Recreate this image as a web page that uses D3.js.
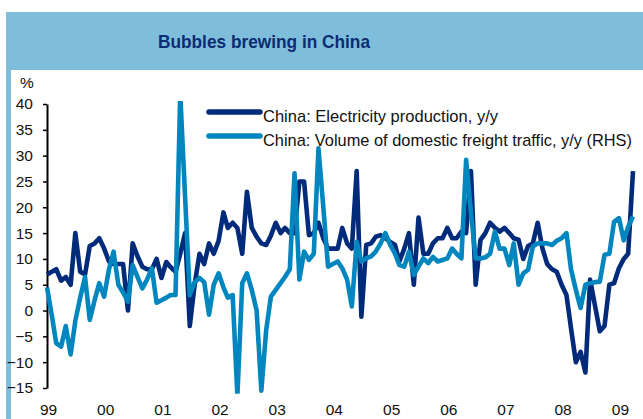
<!DOCTYPE html>
<html>
<head>
<meta charset="utf-8">
<script src="https://cdn.jsdelivr.net/npm/d3@7"></script>
<style>
  html, body { margin: 0; padding: 0; background: #fff; }
  svg { display: block; }
  text { font-family: "Liberation Sans", Arial, Helvetica, sans-serif; }
</style>
</head>
<body>
<svg id="chart" width="643" height="419"></svg>
<script>
// China: electricity production, y/y (%), monthly from Jan 1999
const electricity = [
  7, 7.5, 8, 5.8, 6.5, 5, 15, 7.5, 7, 12.5, 13, 14,
  12, 9.5, 9, 9, 9, 0, 13, 10.5, 8.5, 8, 8, 10,
  6.3, 9.4, 8.4, 7.5, 11, 15, -3, 5, 11, 9, 13, 11,
  13.5, 19, 16, 17, 16, 11, 23, 16, 14.3, 13, 12.7, 14.5,
  17, 15, 16, 15, 15, 25, 25, 14.6, 15, 17, 14, 12,
  12, 12, 16, 13, 12, 27, -1.2, 12.7, 13, 14.3, 14.6, 14,
  13.3, 12.7, 9.5, 12, 15, 5, 18, 11, 11, 13, 14, 14,
  16, 14, 14, 15.3, 15, 27, 5, 13.7, 15, 17, 16, 15.3,
  16, 15, 14, 13.7, 10, 12.5, 13, 17, 12, 9, 8, 7.5,
  5, 3, -3.4, -10, -8, -12, 6, 1, -4, -3, 5, 5.3,
  8.2, 10, 11, 27
];

// China: volume of domestic freight traffic, y/y (%), right-hand scale
const freight = [
  4.5, -1, -6.3, -7, -3, -8.5, -2, 2.5, 6.5, -1.8, 2, 5.3,
  2.7, 8, 11.4, 5, 3.5, 1.7, 8.8, 6.5, 4.3, 6, 8.2, 1.5,
  2, 2.5, 3, 3, 42, 22, 3, 5.5, 6.3, 5.5, -0.8, 5,
  7.2, 4.5, 2.5, 3, -16.5, 5.3, 7.2, 4, 0, -15.5, -3.8, 2.7,
  4, 5.3, 6.5, 8, 26.6, 6, 11.4, 9.8, 11, 31.4, 20, 8.5,
  9, 9.5, 8.2, 6, 0.8, 13.3, 9.5, 10.1, 10.5, 11.4, 13, 15,
  12.7, 11, 8.8, 8.5, 11.4, 6.9, 8.5, 10.1, 9.2, 10.4, 9.5, 9.8,
  10.1, 12, 11, 10.1, 29.2, 19, 10.1, 10.1, 10.3, 11, 15.3, 12,
  12, 8.8, 13, 5, 7.2, 7.9, 12.4, 13, 13, 13, 12.7, 13.5,
  14, 15, 8, 4, 0.5, 5, 5.3, 5.5, 5.6, 10.8, 11, 17.2,
  17.9, 13.6, 16.2, 18.2
];

const yearLabels = ["99", "00", "01", "02", "03", "04", "05", "06", "07", "08", "09"];
const yTicks = [-15, -10, -5, 0, 5, 10, 15, 20, 25, 30, 35, 40];
const seriesNames = [
  "China: Electricity production, y/y",
  "China: Volume of domestic freight traffic, y/y (RHS)"
];
const title = "Bubbles brewing in China";

const startDate = new Date(1999, 0, 1);
const months = d3.timeMonth.range(startDate, d3.timeMonth.offset(startDate, electricity.length));
const yearStarts = yearLabels.map((_, i) => new Date(1999 + i, 0, 1));

const svg = d3.select("#chart");
const frameBlue = "#7ebedb";
const navy = "#002a7a";
const lightBlue = "#0086be";

// Frame: title band and left border
svg.append("rect").attr("x", 6).attr("y", 12).attr("width", 643).attr("height", 58).attr("fill", frameBlue);
svg.append("rect").attr("x", 6).attr("y", 70).attr("width", 5).attr("height", 349).attr("fill", frameBlue);

svg.append("text")
  .attr("x", 264).attr("y", 48)
  .attr("text-anchor", "middle")
  .attr("font-size", 19).attr("font-weight", "bold")
  .attr("fill", "#0c2c72")
  .attr("textLength", 212).attr("lengthAdjust", "spacingAndGlyphs")
  .text(title);

// Scales
const x = d3.scaleTime()
  .domain([months[0], months[months.length - 1]])
  .range([47, 633]);
const y = d3.scaleLinear().domain([-15, 40]).range([388, 104]);

// Plot clip region
svg.append("defs").append("clipPath").attr("id", "plotClip")
  .append("rect")
  .attr("x", 40).attr("y", y(40.6))
  .attr("width", 610).attr("height", y(-16.1) - y(40.6));

// Left axis
const yAxis = d3.axisLeft(y).tickValues(yTicks).tickSize(4).tickSizeOuter(0).tickPadding(10);
const gy = svg.append("g").attr("transform", "translate(47,0)").call(yAxis);
gy.select(".domain").attr("stroke", "#000").attr("stroke-width", 2);
gy.selectAll(".tick line").attr("stroke", "#000").attr("stroke-width", 1.5);
gy.selectAll(".tick text").attr("font-size", 15.5).attr("fill", "#111")
  .attr("font-family", "'Liberation Sans', Arial, sans-serif");

svg.append("text").attr("x", 20).attr("y", 88).attr("font-size", 15.5).attr("fill", "#111").text("%");

// Year labels
svg.append("g").selectAll("text").data(yearLabels).join("text")
  .attr("x", (d, i) => x(yearStarts[i]) + 1.5)
  .attr("y", 415)
  .attr("text-anchor", "middle")
  .attr("font-size", 15.5).attr("fill", "#111")
  .text(d => d);

// Lines
const line = d3.line().x((d, i) => x(months[i])).y(d => y(d));
const plot = svg.append("g").attr("clip-path", "url(#plotClip)");
plot.append("path").datum(electricity)
  .attr("d", line).attr("fill", "none")
  .attr("stroke", navy).attr("stroke-width", 4.6).attr("stroke-linejoin", "round");
plot.append("path").datum(freight)
  .attr("d", line).attr("fill", "none")
  .attr("stroke", lightBlue).attr("stroke-width", 4.6).attr("stroke-linejoin", "round");

// Legend
const legend = svg.append("g");
const legendRows = [
  { name: seriesNames[0], color: navy, y: 112, width: 235 },
  { name: seriesNames[1], color: lightBlue, y: 136, width: 369 }
];
legendRows.forEach(r => {
  legend.append("line")
    .attr("x1", 209).attr("x2", 260).attr("y1", r.y).attr("y2", r.y)
    .attr("stroke", r.color).attr("stroke-width", 5.5).attr("stroke-linecap", "round");
  legend.append("text")
    .attr("x", 263).attr("y", r.y + 10)
    .attr("font-size", 17).attr("fill", "#111")
    .attr("textLength", r.width).attr("lengthAdjust", "spacingAndGlyphs")
    .text(r.name);
});
</script>
</body>
</html>
